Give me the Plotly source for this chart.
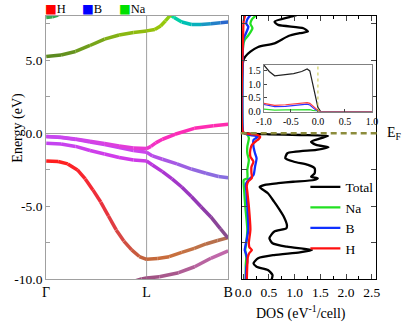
import plotly.graph_objects as go

W, H = 406, 322          # reference picture size (layout coordinates are read in these pixels)
FIG_H = 330              # page is captured a little taller and squeezed to 322
FONT = "Liberation Serif"

# ---------------- band structure (k = fractional path position, E in eV) ----------------
kpath_vals = [0.0, 0.552, 1.0]
kpath_labels = ["Γ", "L", "B"]
k_L = 0.552

na_cb_k = [0, 0.082, 0.162, 0.241, 0.321, 0.401, 0.480, 0.552, 0.597, 0.629, 0.655, 0.682, 0.703]
na_cb_E = [5.25, 5.36, 5.60, 6.01, 6.45, 6.73, 6.90, 7.01, 7.11, 7.35, 7.69, 8.07, 8.31]

na_top_k = [0, 0.034, 0.066, 0.088]
na_top_E = [7.93, 7.97, 8.10, 8.31]

cb2_k = [0.655, 0.682, 0.703, 0.745, 0.798, 0.851, 0.905, 0.958, 1.0]
cb2_E = [8.24, 8.10, 7.93, 7.62, 7.45, 7.45, 7.50, 7.57, 7.62]

vbA_k = [0, 0.082, 0.162, 0.241, 0.321, 0.401, 0.480, 0.552, 0.576, 0.602, 0.639, 0.708, 0.814, 0.920, 1.0]
vbA_E = [-0.23, -0.27, -0.39, -0.55, -0.70, -0.87, -1.01, -1.05, -0.90, -0.66, -0.41, -0.07, 0.34, 0.52, 0.62]

vbB_k = [0, 0.082, 0.162, 0.241, 0.321, 0.401, 0.480, 0.552, 0.584, 0.639, 0.719, 0.798, 0.878, 0.947, 1.0]
vbB_E = [-0.23, -0.29, -0.42, -0.60, -0.77, -0.97, -1.18, -1.30, -1.55, -1.78, -2.10, -2.45, -2.74, -2.96, -3.04]

vbC_k = [0, 0.082, 0.162, 0.241, 0.321, 0.401, 0.480, 0.552, 0.584, 0.639, 0.692, 0.745, 0.798, 0.851, 0.905, 0.958, 1.0]
vbC_E = [-0.68, -0.73, -0.90, -1.18, -1.42, -1.66, -1.83, -1.90, -2.17, -2.63, -3.13, -3.68, -4.33, -5.03, -5.73, -6.55, -7.19]

vbD_k = [0, 0.066, 0.119, 0.172, 0.215, 0.257, 0.300, 0.342, 0.385, 0.427, 0.470, 0.512, 0.552, 0.613, 0.676, 0.745, 0.814, 0.878, 0.942, 1.0]
vbD_E = [-1.90, -1.93, -2.10, -2.51, -3.13, -3.88, -4.71, -5.66, -6.62, -7.38, -7.99, -8.44, -8.63, -8.58, -8.45, -8.16, -7.88, -7.58, -7.34, -7.15]

vbE_k = [0.48, 0.524, 0.552, 0.622, 0.728, 0.816, 0.905, 1.0]
vbE_E = [-10.15, -9.98, -9.91, -9.82, -9.55, -9.14, -8.56, -8.06]

# segment colours (projection mix: red=H, blue=B, green=Na)
na_cb_col = ['#5c8a20', '#64921e', '#6e9c1c', '#78a61a', '#82b016', '#8ab812', '#90bc0e', '#94c00c',
             '#98c40a', '#96c80c', '#8ccc12', '#80d01a']
na_top_col = '#34a850'
cb2_col = ['#18e080', '#08dc98', '#00d0a8', '#00c0b4', '#08b0bc', '#1898c4', '#2480c8', '#2a68cc']
vbA_col = ['#c848f0', '#cc46ee', '#d044ea', '#d642e4', '#dc40de', '#e23cd8', '#e838d2', '#ee34cc',
           '#f232c6', '#f630c0', '#fa2ebc', '#fc2cb6', '#fe2cb2', '#ff2cae']
vbB_col = ['#c04af0', '#c24af0', '#c448f0', '#c646f0', '#c844f0', '#ca44ee', '#cc44ee', '#c048ea',
           '#b450e6', '#a858e4', '#9c60e2', '#9268e0', '#8c6ce0', '#886ee0']
vbC_col = ['#c444f0', '#c842ee', '#cc40ec', '#ce3eea', '#d03cea', '#d03ae8', '#cc3ae6', '#c038e0',
           '#b436d8', '#aa36d0', '#a236c8', '#9a36c0', '#9438b6', '#8e3ca8', '#8a4498', '#884c8e']
vbD_col = ['#ff1e1e', '#ff2020', '#fc2228', '#f8262e', '#f42a34', '#ee2e3a', '#e8343e', '#e03c42',
           '#d84644', '#d05042', '#c85a3e', '#c2623c', '#c4683a', '#c86c3c', '#c8703e', '#c47244',
           '#be7248', '#b8704c', '#b46e50']
vbE_col = ['#9a4c7c', '#9c4e80', '#a05284', '#a8588c', '#b05e96', '#b864a0', '#c068aa']

# ---------------- DOS (E in eV, DOS in states/eV/cell) ----------------
tot_E = [-10.05, -9.71, -9.36, -9.14, -8.90, -8.56, -8.34, -8.15, -7.99, -7.77, -7.53, -7.19, -6.74, -6.51,
         -6.28, -5.71, -5.14, -4.68, -4.11, -3.68, -3.54, -3.42, -3.32, -3.20, -3.08, -2.97, -2.74, -2.40,
         -2.17, -1.95, -1.71, -1.37, -1.14, -0.96, -0.80, -0.58, -0.35, -0.18, -0.12, -0.07, -0.02, 0.05,
         4.95, 5.25, 5.59, 5.91, 6.16, 6.66, 6.85, 6.96, 7.19, 7.42, 7.64, 7.95, 8.10]
tot_D = [0.55, 0.57, 0.48, 0.26, 0.20, 0.29, 0.60, 1.10, 1.34, 0.85, 0.57, 0.51, 0.60, 0.84,
         0.85, 0.79, 0.69, 0.60, 0.48, 0.32, 0.42, 0.68, 0.97, 1.38, 1.45, 1.32, 1.39, 1.39,
         1.26, 0.99, 0.82, 0.86, 1.42, 1.66, 1.42, 1.32, 1.50, 1.65, 1.10, 0.50, 0.12, 0.0,
         0.0, 0.04, 0.14, 0.29, 0.61, 0.88, 1.10, 1.26, 1.17, 0.68, 0.61, 0.90, 1.05]

na_E = [-10.05, -9.0, -8.5, -8.0, -7.5, -6.6, -5.0, -4.0, -3.5, -3.2, -3.08, -2.51, -1.83, -1.37, -0.92,
        -0.34, -0.1, 0.0, 0.05, 6.0, 6.4, 6.7, 7.2, 7.5, 7.8, 8.1]
na_D = [0.05, 0.05, 0.06, 0.04, 0.06, 0.08, 0.04, 0.02, 0.01, 0.01, 0.08, 0.08, 0.11, 0.08, 0.08,
        0.11, 0.08, 0.02, 0.0, 0.0, 0.03, 0.10, 0.18, 0.14, 0.17, 0.26]

b_E = [-10.05, -9.2, -8.8, -8.3, -8.0, -7.6, -6.6, -5.0, -3.9, -3.5, -3.2, -2.86, -2.29, -1.71, -1.37,
       -0.92, -0.46, -0.23, -0.1, 0.0, 0.05, 6.3, 6.5, 6.9, 7.3, 7.5, 7.8, 8.1]
b_D = [0.05, 0.06, 0.08, 0.06, 0.03, 0.05, 0.10, 0.08, 0.06, 0.05, 0.10, 0.20, 0.23, 0.26, 0.23,
       0.20, 0.20, 0.29, 0.10, 0.02, 0.0, 0.0, 0.01, 0.06, 0.10, 0.06, 0.08, 0.14]

h_E = [-10.05, -9.0, -8.5, -8.2, -8.0, -7.8, -7.5, -6.6, -5.0, -4.0, -3.6, -3.3, -3.05, -2.7, -2.3,
       -1.95, -1.6, -1.1, -0.8, -0.5, -0.4, -0.25, -0.1, -0.03, 0.05, 7.0, 7.7, 8.1]
h_D = [0.07, 0.08, 0.09, 0.12, 0.17, 0.12, 0.11, 0.14, 0.11, 0.08, 0.07, 0.10, 0.17, 0.16, 0.16,
       0.20, 0.14, 0.14, 0.17, 0.26, 0.30, 0.33, 0.25, 0.08, 0.0, 0.0, 0.01, 0.04]

# inset (zoom around the Fermi level)
ins_E = [-1.0, -0.9, -0.8, -0.6, -0.45, -0.3, -0.2, -0.15, -0.1, -0.05, 0.0, 0.05, 1.0]
ins_tot = [1.72, 1.48, 1.32, 1.35, 1.40, 1.48, 1.57, 1.50, 1.05, 0.50, 0.15, 0.0, 0.0]
ins_h = [0.30, 0.26, 0.23, 0.25, 0.27, 0.30, 0.33, 0.30, 0.22, 0.12, 0.04, 0.0, 0.0]
ins_b = [0.26, 0.22, 0.18, 0.19, 0.21, 0.24, 0.27, 0.24, 0.15, 0.07, 0.02, 0.0, 0.0]
ins_na = [0.09, 0.07, 0.05, 0.06, 0.07, 0.08, 0.09, 0.07, 0.04, 0.02, 0.0, 0.0, 0.0]

# ticks
e_tickvals = [-10, -7.5, -5, -2.5, 0, 2.5, 5, 7.5]
e_ticktext = ["-10.0", "", "-5.0", "", "0.0", "", "5.0", ""]
dos_tickvals = [0, 0.5, 1.0, 1.5, 2.0, 2.5]
dos_ticktext = ["0.0", "0.5", "1.0", "1.5", "2.0", "2.5"]
dos_minor = [0.25, 0.75, 1.25, 1.75, 2.25]
ins_xvals = [-1.0, -0.5, 0.0, 0.5, 1.0]
ins_xtext = ["-1.0", "-0.5", "0.0", "0.5", "1.0"]
ins_yvals = [0.0, 0.5, 1.0, 1.5]
ins_ytext = ["0.0", "0.5", "1.0", "1.5"]

# ---------------- figure ----------------
fig = go.Figure()


def add_band(k, E, colors, width=3.5):
    for i in range(len(k) - 1):
        c = colors[i] if isinstance(colors, list) else colors
        fig.add_trace(go.Scatter(x=k[i:i + 2], y=E[i:i + 2], mode="lines",
                                 line=dict(color=c, width=width),
                                 xaxis="x", yaxis="y", showlegend=False, hoverinfo="skip"))


add_band(vbE_k, vbE_E, vbE_col)
add_band(vbD_k, vbD_E, vbD_col)
add_band(vbC_k, vbC_E, vbC_col)
add_band(vbB_k, vbB_E, vbB_col)
add_band(vbA_k, vbA_E, vbA_col)
add_band(na_top_k, na_top_E, na_top_col)
add_band(cb2_k, cb2_E, cb2_col)
add_band(na_cb_k, na_cb_E, na_cb_col)

dos_series = [("Total", tot_E, tot_D, "#000000"),
              ("Na", na_E, na_D, "#22e022"),
              ("B", b_E, b_D, "#1030ff"),
              ("H", h_E, h_D, "#ff1010")]
for name, E, D, col in dos_series:
    fig.add_trace(go.Scatter(x=D, y=E, mode="lines", name=name,
                             line=dict(color=col, width=2.3, shape="spline", smoothing=0.6),
                             xaxis="x2", yaxis="y2", legend="legend2", showlegend=True))

ins_series = [(ins_tot, "#222222"), (ins_na, "#30e030"), (ins_b, "#3030ff"), (ins_h, "#ff4040")]
for D, col in ins_series:
    fig.add_trace(go.Scatter(x=ins_E, y=D, mode="lines", line=dict(color=col, width=1.2),
                             xaxis="x3", yaxis="y3", showlegend=False, hoverinfo="skip"))


def fx(p):
    return p / W


def fy(p):
    return 1 - p / H


tickfont = dict(family=FONT, size=13.5, color="black")
gray = "#a0a0a0"
e_range = [-10, 8.05]

fig.update_layout(
    width=W, height=FIG_H, autosize=False,
    margin=dict(l=0, r=0, t=0, b=0),
    paper_bgcolor="white", plot_bgcolor="white",
    font=dict(family=FONT, color="black"),
    xaxis=dict(domain=[fx(39.5), fx(228)], range=[0, 1], anchor="y",
               tickvals=kpath_vals, ticktext=kpath_labels, ticks="",
               showline=True, linecolor=gray, mirror=True, showgrid=False, zeroline=False,
               tickfont=dict(family=FONT, size=14, color="black")),
    yaxis=dict(domain=[fy(279.3), fy(15.7)], range=e_range, anchor="x",
               tickvals=e_tickvals, ticktext=e_ticktext, ticks="inside", ticklen=4, tickcolor=gray,
               showline=True, linecolor=gray, mirror=True, showgrid=False,
               zeroline=True, zerolinecolor=gray, zerolinewidth=1, tickfont=tickfont),
    xaxis2=dict(domain=[fx(242), fx(381)], range=[-0.03, 2.58], anchor="y2",
                tickvals=dos_tickvals, ticktext=dos_ticktext, ticks="inside", ticklen=5,
                minor=dict(tickvals=dos_minor, ticks="inside", ticklen=3, tickcolor="black"),
                showline=True, linecolor="black", mirror="ticks", showgrid=False, zeroline=False,
                tickfont=tickfont),
    yaxis2=dict(domain=[fy(279.3), fy(15.7)], range=e_range, anchor="x2",
                tickvals=e_tickvals, showticklabels=False, ticks="inside", ticklen=5,
                showline=True, linecolor="black", mirror="ticks", showgrid=False, zeroline=False),
    xaxis3=dict(domain=[fx(265), fx(377)], range=[-1, 1], anchor="y3",
                tickvals=ins_xvals, ticktext=ins_xtext, ticks="inside", ticklen=3,
                showline=True, linecolor="#808080", mirror=True, showgrid=False, zeroline=False,
                tickfont=dict(family=FONT, size=10, color="black")),
    yaxis3=dict(domain=[fy(111.5), fy(65)], range=[0, 1.72], anchor="x3",
                tickvals=ins_yvals, ticktext=ins_ytext, ticks="inside", ticklen=3,
                showline=True, linecolor="#808080", mirror=True, showgrid=False, zeroline=False,
                tickfont=dict(family=FONT, size=10, color="black")),
    legend2=dict(x=fx(308), y=fy(171.5), xanchor="left", yanchor="top",
                 bgcolor="rgba(0,0,0,0)", font=dict(family=FONT, size=13.5, color="black"),
                 itemwidth=30, tracegroupgap=0),
)

fig.add_shape(type="line", xref="x", yref="y domain", x0=k_L, x1=k_L, y0=0, y1=1,
              line=dict(color=gray, width=1), layer="below")
fig.add_shape(type="line", xref="paper", yref="y2", x0=fx(241), x1=fx(386), y0=0, y1=0,
              line=dict(color="#8c8c3c", width=2.5, dash="6px,4px"))
fig.add_shape(type="line", xref="x3", yref="y3 domain", x0=0, x1=0, y0=0, y1=1,
              line=dict(color="#c8c840", width=1, dash="dot"))

annots = [
    dict(text="Energy (eV)", x=fx(10), y=fy(128), textangle=-90, font=dict(family=FONT, size=14)),
    dict(text="DOS (eV<sup>-1</sup>/cell)", x=fx(303.5), y=fy(312), font=dict(family=FONT, size=14)),
]
for a in annots:
    fig.add_annotation(xref="paper", yref="paper", showarrow=False, xanchor="center", yanchor="middle",
                       **a)

fig.add_annotation(text="E<sub>F</sub>", xref="paper", yref="y2", x=fx(391), y=0, xanchor="left",
                   yanchor="middle", showarrow=False, font=dict(family=FONT, size=14), borderpad=0)

proj_names = ["H", "B", "Na"]
proj_colors = ["#ff0000", "#0000ff", "#00e000"]
proj_x = [37, 76, 114]
for nm, col, px in zip(proj_names, proj_colors, proj_x):
    fig.add_annotation(text=f"<span style='color:{col};font-family:DejaVu Sans'>■</span>{nm}",
                       xref="paper", yref="paper", x=fx(px), y=1.0, xanchor="left", yanchor="top",
                       showarrow=False, font=dict(family=FONT, size=12.5), borderpad=0)

fig.write_html("out.html",
               config={"responsive": False, "displayModeBar": False},
               post_script="document.body.style.margin='0px';document.body.style.overflow='hidden';")
